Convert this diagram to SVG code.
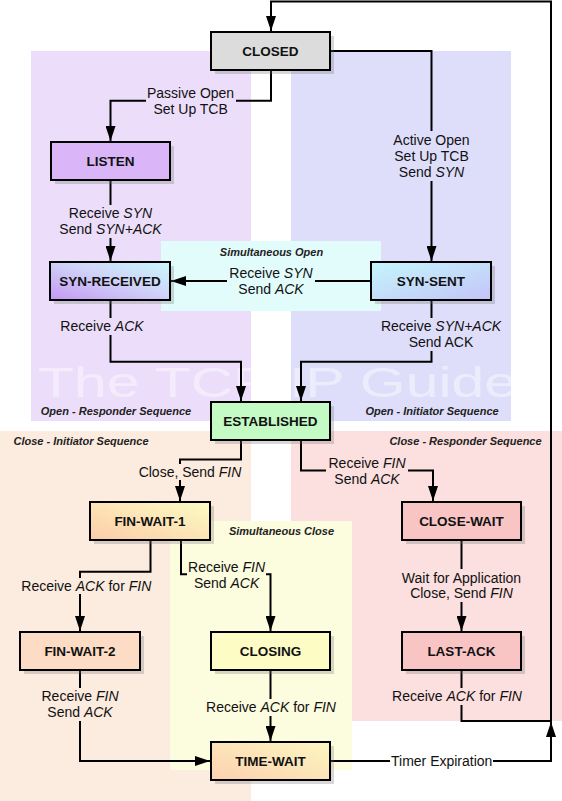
<svg xmlns="http://www.w3.org/2000/svg" width="562" height="801" viewBox="0 0 562 801">
<style>
.node rect.box{stroke:#000;stroke-width:2}
.sh{fill:#707070;opacity:0.28}
.nl{font-family:"Liberation Sans",Arial,sans-serif;font-size:13.5px;font-weight:bold;text-anchor:middle;fill:#111}
.el{font-family:"Liberation Sans",Arial,sans-serif;font-size:14px;text-anchor:middle;fill:#111}
.rl{font-family:"Liberation Sans",Arial,sans-serif;font-size:11px;font-weight:bold;font-style:italic;fill:#222}
.conn path{fill:none;stroke:#000;stroke-width:2}
.arr{marker-end:url(#ah)}
.it{font-style:italic}
</style>
<defs>
<marker id="ah" viewBox="0 0 15 10" refX="15" refY="5" markerWidth="15" markerHeight="10" markerUnits="userSpaceOnUse" orient="auto">
<path d="M0,0 L15,5 L0,10 z" fill="#000"/>
</marker>
<linearGradient id="gRecv" x1="0" y1="1" x2="1" y2="0"><stop offset="0" stop-color="#c498f4"/><stop offset="0.55" stop-color="#d0d4f8"/><stop offset="1" stop-color="#c8f8fc"/></linearGradient>
<linearGradient id="gSent" x1="0" y1="0" x2="1" y2="1"><stop offset="0" stop-color="#c4f6fc"/><stop offset="1" stop-color="#c4c4f8"/></linearGradient>
<linearGradient id="gFw1" x1="0" y1="1" x2="1" y2="0"><stop offset="0" stop-color="#fccca8"/><stop offset="1" stop-color="#fcfcc4"/></linearGradient>
<linearGradient id="gTw" x1="0" y1="1" x2="1" y2="0"><stop offset="0" stop-color="#fcd0b0"/><stop offset="1" stop-color="#fcf8c0"/></linearGradient>
</defs>
<rect width="562" height="801" fill="#fff"/>
<g id="regions">
<rect x="31" y="51" width="220" height="370" fill="#ecdefa"/>
<rect x="291" y="51" width="220" height="370" fill="#dedefa"/>
<rect x="161" y="241" width="220" height="70" fill="#e2fcfc"/>
<rect x="0" y="431" width="251" height="370" fill="#fcebdf"/>
<rect x="291" y="431" width="271" height="290" fill="#fcdfdf"/>
<rect x="170" y="521" width="182" height="249" fill="#fcfcdf"/>
</g>
<text x="38" y="397" font-family="'Liberation Sans',Arial,sans-serif" font-size="42" textLength="479" lengthAdjust="spacingAndGlyphs" fill="#fff" opacity="0.45">The TCP/IP Guide</text>
<g id="connectors" class="conn">
<path class="arr" d="M271,70 V100.7 H110.5 V141"/>
<path class="arr" d="M330,51 H431.5 V261"/>
<path class="arr" d="M110.5,180 V261"/>
<path class="arr" d="M371,281 H171"/>
<path class="arr" d="M110.5,300 V361.7 H241 V401"/>
<path class="arr" d="M431.5,300 V361.7 H301 V401"/>
<path class="arr" d="M241,440 V459.5 H180 V501"/>
<path class="arr" d="M301,440 V470.5 H433 V501"/>
<path class="arr" d="M150.5,540 V571.7 H80 V631"/>
<path class="arr" d="M181,540 V574.3 H270.5 V631"/>
<path class="arr" d="M461.5,540 V631"/>
<path class="arr" d="M80,670 V761 H210"/>
<path class="arr" d="M270.5,670 V741"/>
<path d="M461.5,670 V721 H552"/>
<path class="arr" d="M330,761 H551 V722"/>
<path class="arr" d="M551,722 V1.5 H271 V31"/>
</g>
<g id="labels">
<rect x="146" y="86" width="90" height="31" fill="#ecdefa"/>
<text class="el" x="190.6" y="98">Passive Open</text>
<text class="el" x="190.6" y="114">Set Up TCB</text>
<rect x="391" y="131" width="81" height="50" fill="#dedefa"/>
<text class="el" x="431.5" y="145">Active Open</text>
<text class="el" x="431.5" y="161">Set Up TCB</text>
<text class="el" x="431.5" y="177">Send <tspan class="it">SYN</tspan></text>
<rect x="58" y="205" width="105" height="33" fill="#ecdefa"/>
<text class="el" x="110.5" y="218">Receive <tspan class="it">SYN</tspan></text>
<text class="el" x="110.5" y="234">Send <tspan class="it">SYN+ACK</tspan></text>
<text class="rl" x="271.5" y="255.5" text-anchor="middle">Simultaneous Open</text>
<rect x="227" y="265" width="88" height="32" fill="#e2fcfc"/>
<text class="el" x="271" y="277.7">Receive <tspan class="it">SYN</tspan></text>
<text class="el" x="271" y="294">Send <tspan class="it">ACK</tspan></text>
<rect x="58" y="318" width="88" height="17" fill="#ecdefa"/>
<text class="el" x="102" y="331">Receive <tspan class="it">ACK</tspan></text>
<rect x="379" y="318" width="124" height="33" fill="#dedefa"/>
<text class="el" x="441" y="331">Receive <tspan class="it">SYN+ACK</tspan></text>
<text class="el" x="441" y="347">Send ACK</text>
<text class="rl" x="116" y="415" text-anchor="middle">Open - Responder Sequence</text>
<text class="rl" x="432" y="415" text-anchor="middle">Open - Initiator Sequence</text>
<text class="rl" x="81" y="445" text-anchor="middle">Close - Initiator Sequence</text>
<text class="rl" x="465.5" y="445" text-anchor="middle">Close - Responder Sequence</text>
<rect x="136" y="464" width="108" height="16" fill="#fcebdf"/>
<text class="el" x="190" y="477">Close, Send <tspan class="it">FIN</tspan></text>
<rect x="326" y="455" width="82" height="32" fill="#fcdfdf"/>
<text class="el" x="367" y="468">Receive <tspan class="it">FIN</tspan></text>
<text class="el" x="367" y="484">Send <tspan class="it">ACK</tspan></text>
<text class="rl" x="281.5" y="535" text-anchor="middle">Simultaneous Close</text>
<rect x="19" y="578" width="135" height="16" fill="#fcebdf"/>
<text class="el" x="86.3" y="591">Receive <tspan class="it">ACK</tspan> for <tspan class="it">FIN</tspan></text>
<rect x="187" y="559" width="79" height="32" fill="#fcfcdf"/>
<text class="el" x="226.6" y="572">Receive <tspan class="it">FIN</tspan></text>
<text class="el" x="226.6" y="588">Send <tspan class="it">ACK</tspan></text>
<rect x="399" y="569" width="126" height="33" fill="#fcdfdf"/>
<text class="el" x="461.5" y="583">Wait for Application</text>
<text class="el" x="461.5" y="598">Close, Send <tspan class="it">FIN</tspan></text>
<rect x="39" y="688" width="82" height="33" fill="#fcebdf"/>
<text class="el" x="80" y="701">Receive <tspan class="it">FIN</tspan></text>
<text class="el" x="80" y="717">Send <tspan class="it">ACK</tspan></text>
<rect x="204" y="699" width="134" height="17" fill="#fcfcdf"/>
<text class="el" x="271" y="712">Receive <tspan class="it">ACK</tspan> for <tspan class="it">FIN</tspan></text>
<rect x="390" y="688" width="134" height="17" fill="#fcdfdf"/>
<text class="el" x="457" y="701">Receive <tspan class="it">ACK</tspan> for <tspan class="it">FIN</tspan></text>
<rect x="390" y="753" width="103" height="17" fill="#fff"/>
<text class="el" x="441.7" y="766">Timer Expiration</text>
</g>
<g id="n-closed" class="node"><rect class="sh" x="215" y="36" width="119" height="38"/><rect class="box" x="211" y="32" width="119" height="38" fill="#dcdcdc"/><text class="nl" x="270.5" y="55.5">CLOSED</text></g>
<g id="n-listen" class="node"><rect class="sh" x="55" y="146" width="119" height="38"/><rect class="box" x="51" y="142" width="119" height="38" fill="#dab6f8"/><text class="nl" x="110.5" y="165.5">LISTEN</text></g>
<g id="n-synrcvd" class="node"><rect class="sh" x="54" y="266" width="120" height="38"/><rect class="box" x="50" y="262" width="120" height="38" fill="url(#gRecv)"/><text class="nl" x="110" y="285.5">SYN-RECEIVED</text></g>
<g id="n-synsent" class="node"><rect class="sh" x="375" y="266" width="120" height="38"/><rect class="box" x="371" y="262" width="120" height="38" fill="url(#gSent)"/><text class="nl" x="431" y="285.5">SYN-SENT</text></g>
<g id="n-established" class="node"><rect class="sh" x="215" y="406" width="119" height="38"/><rect class="box" x="211" y="402" width="119" height="38" fill="#c4fac4"/><text class="nl" x="270.5" y="425.5">ESTABLISHED</text></g>
<g id="n-finwait1" class="node"><rect class="sh" x="94" y="506" width="120" height="38"/><rect class="box" x="90" y="502" width="120" height="38" fill="url(#gFw1)"/><text class="nl" x="150" y="525.5">FIN-WAIT-1</text></g>
<g id="n-closewait" class="node"><rect class="sh" x="406" y="506" width="119" height="38"/><rect class="box" x="402" y="502" width="119" height="38" fill="#f8c4c4"/><text class="nl" x="461.5" y="525.5">CLOSE-WAIT</text></g>
<g id="n-finwait2" class="node"><rect class="sh" x="24" y="636" width="120" height="38"/><rect class="box" x="20" y="632" width="120" height="38" fill="#fcdcc4"/><text class="nl" x="80" y="655.5">FIN-WAIT-2</text></g>
<g id="n-closing" class="node"><rect class="sh" x="215" y="636" width="119" height="38"/><rect class="box" x="211" y="632" width="119" height="38" fill="#fcfcc4"/><text class="nl" x="270.5" y="655.5">CLOSING</text></g>
<g id="n-lastack" class="node"><rect class="sh" x="406" y="636" width="119" height="38"/><rect class="box" x="402" y="632" width="119" height="38" fill="#f8c4c4"/><text class="nl" x="461.5" y="655.5">LAST-ACK</text></g>
<g id="n-timewait" class="node"><rect class="sh" x="215" y="746" width="119" height="38"/><rect class="box" x="211" y="742" width="119" height="38" fill="url(#gTw)"/><text class="nl" x="270.5" y="765.5">TIME-WAIT</text></g>
</svg>
